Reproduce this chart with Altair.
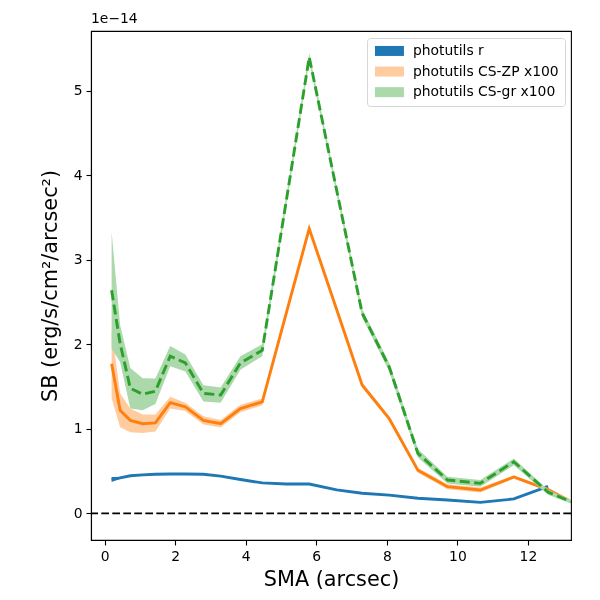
import altair as alt
import pandas as pd

# --- data (SB in units of 1e-14) ---
sma = [0.2, 0.44, 0.73, 1.08, 1.44, 1.86, 2.29, 2.8, 3.29, 3.85, 4.47, 5.15,
       5.8, 6.58, 7.3, 8.07, 8.88, 9.72, 10.65, 11.6, 12.57, 13.22]

r_sb = [0.40, 0.42, 0.445, 0.455, 0.462, 0.466, 0.466, 0.463, 0.44, 0.40, 0.36, 0.347,
        0.347, 0.277, 0.238, 0.215, 0.178, 0.157, 0.13, 0.17, 0.32, None]
r_err = [0.03, 0.01, 0.006, 0.005, 0.005, 0.005, 0.005, 0.005, 0.005, 0.005, 0.005, 0.005,
         0.005, 0.005, 0.005, 0.005, 0.005, 0.005, 0.005, 0.005, 0.005, None]

zp_sb = [1.77, 1.22, 1.10, 1.06, 1.07, 1.31, 1.26, 1.10, 1.06, 1.24, 1.32, 2.37,
         3.37, 2.41, 1.52, 1.12, 0.51, 0.315, 0.276, 0.43, 0.28, 0.137]
zp_err = [0.41, 0.20, 0.14, 0.11, 0.10, 0.07, 0.05, 0.05, 0.045, 0.045, 0.04, 0.04,
          0.03, 0.03, 0.03, 0.03, 0.03, 0.03, 0.03, 0.02, 0.02, 0.02]

gr_sb = [2.64, 2.01, 1.48, 1.41, 1.445, 1.86, 1.78, 1.42, 1.40, 1.78, 1.93, 3.70,
         5.40, 3.82, 2.37, 1.73, 0.71, 0.394, 0.355, 0.61, 0.25, 0.137]
gr_err = [0.69, 0.22, 0.24, 0.19, 0.15, 0.12, 0.10, 0.095, 0.09, 0.08, 0.07, 0.06,
          0.05, 0.05, 0.05, 0.05, 0.05, 0.04, 0.04, 0.04, 0.03, 0.02]

series_names = ["photutils r", "photutils CS-ZP x100", "photutils CS-gr x100"]
x_ticks = [0, 2, 4, 6, 8, 10, 12]
y_ticks = [0, 1, 2, 3, 4, 5]
zero_level = [0]

# --- styles ---
line_colors = ["#1f77b4", "#ff7f0e", "#2ca02c"]
band_colors = ["#1f77b4", "#ffcc9f", "#abd9ab"]
FONT = "DejaVu Sans"

rows = []
for name, vals, errs in zip(series_names, [r_sb, zp_sb, gr_sb], [r_err, zp_err, gr_err]):
    for x, v, e in zip(sma, vals, errs):
        if v is None:
            continue
        rows.append({"series": name, "sma": x, "sb": v, "lo": v - e, "hi": v + e})
df = pd.DataFrame(rows)

xscale = alt.Scale(domain=[-0.385, 13.22], nice=False, zero=False)
yscale = alt.Scale(domain=[-0.316, 5.71], nice=False, zero=False)

xaxis = alt.Axis(values=x_ticks, title="SMA (arcsec)", format="d")
yaxis = alt.Axis(values=y_ticks, title="SB (erg/s/cm²/arcsec²)", format="d")

base = alt.Chart(df)

legend = alt.Legend(
    title=None, orient="none", legendX=276, legendY=7,
    symbolType="M-1,-1L4.8,-1L4.8,1L-1,1Z", symbolSize=100,
    symbolStrokeWidth=0, symbolOpacity=1,
    labelOffset=26, labelFontSize=13.9, labelFont=FONT, labelColor="black",
    rowPadding=5.6, padding=6, fillColor="white", strokeColor="#d6d6d6",
    cornerRadius=3, labelLimit=400,
)

layers = []
zero = alt.Chart(pd.DataFrame({"y": zero_level})).mark_rule(
    color="black", strokeWidth=1.8, strokeDash=[7.7, 3.3]
).encode(y=alt.Y("y:Q", scale=yscale, axis=yaxis))
layers.append(zero)

for i, name in enumerate(series_names):
    sub = base.transform_filter(alt.datum.series == name)
    band = sub.mark_area(blend="multiply", clip=True).encode(
        x=alt.X("sma:Q", scale=xscale, axis=xaxis),
        y=alt.Y("lo:Q", scale=yscale, axis=yaxis),
        y2="hi:Q",
        color=alt.Color("series:N",
                        scale=alt.Scale(domain=series_names, range=band_colors),
                        legend=legend),
    )
    line_kw = dict(color=line_colors[i], strokeWidth=2.9, clip=True)
    if i == 2:
        line_kw["strokeDash"] = [10, 4.5]
    line = sub.mark_line(**line_kw).encode(
        x=alt.X("sma:Q", scale=xscale, axis=xaxis),
        y=alt.Y("sb:Q", scale=yscale, axis=yaxis),
    )
    layers.extend([band, line])

offset_txt = alt.Chart(pd.DataFrame({"t": ["1e\u221214"]})).mark_text(
    align="left", baseline="bottom", fontSize=13.9, font=FONT, color="black"
).encode(x=alt.value(0), y=alt.value(-5), text="t:N")
layers.append(offset_txt)

chart = alt.layer(*layers).properties(
    width=480, height=509,
    autosize=alt.AutoSizeParams(type="none"),
    padding={"left": 83, "top": 23, "right": 21, "bottom": 52},
).configure_view(
    stroke="black", strokeWidth=1.1
).configure_axis(
    grid=False, domainColor="black", domainWidth=1.1,
    tickColor="black", tickWidth=1.1, tickSize=5,
    labelFont=FONT, labelFontSize=13.9, labelColor="black", labelPadding=4,
    titleFont=FONT, titleFontSize=20.8, titleFontWeight="normal", titleColor="black",
).configure_axisX(titlePadding=7).configure_axisY(titlePadding=13)

chart.save("out.html", embed_options={"renderer": "svg", "actions": False})
